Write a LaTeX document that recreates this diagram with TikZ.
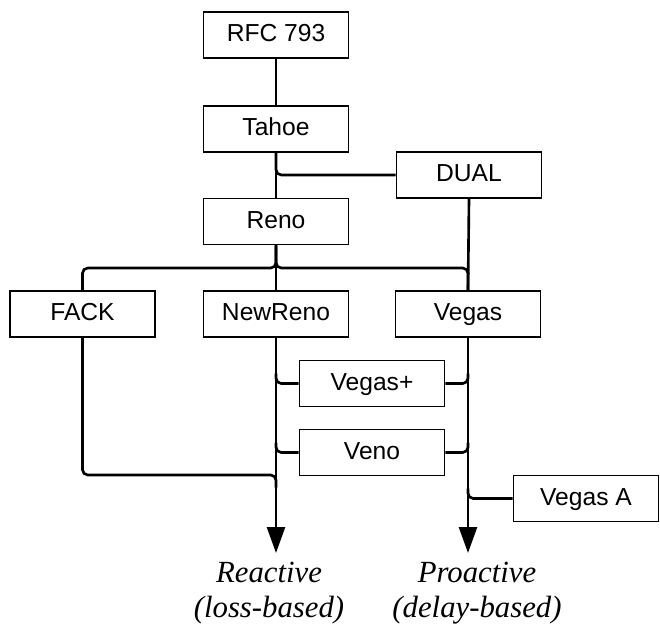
\documentclass[tikz,border=0pt]{standalone}
\usepackage{fontspec}
\setmainfont{Liberation Sans}
\newfontfamily\resultfont{Liberation Serif}
\usetikzlibrary{arrows.meta,calc}

\begin{document}
\begin{tikzpicture}[box/.style={rectangle, draw, line width=1pt,
  minimum width=2.9cm, minimum height=0.92cm, inner sep=0pt,
  text height=2ex, text depth=0.5ex, font=\fontsize{14}{16}\selectfont},
  link/.style={line width=1.5pt, rounded corners=3pt},
  result/.style={align=center, inner sep=0pt, anchor=north,
  font=\resultfont\itshape\fontsize{17.5}{20}\selectfont},
  >={Triangle[length=0.52cm, width=0.36cm]}]
  \useasboundingbox (0,0) rectangle (13.2,-12.48);
  \node[box] (rfc)     at (5.52, -0.70) {RFC 793};
  \node[box] (tahoe)   at (5.52, -2.58) {Tahoe};
  \node[box] (dual)    at (9.38, -3.50) {DUAL};
  \node[box] (reno)    at (5.52, -4.43) {Reno};
  \node[box] (fack)    at (1.65, -6.28) {FACK};
  \node[box] (newreno) at (5.52, -6.28) {NewReno};
  \node[box] (vegas)   at (9.36, -6.28) {Vegas};
  \node[box] (vegasp)  at (7.44, -7.67) {Vegas+};
  \node[box] (veno)    at (7.44, -9.05) {Veno};
  \node[box] (vegasa)  at (11.72, -9.97) {Vegas A};
  \node[result] (reactive)  at (5.38, -11.24) {Reactive\\(loss-based)};
  \node[result] (proactive) at (9.54, -11.24) {Proactive\\(delay-based)};
  \coordinate (split)    at (5.52, -5.36);
  \coordinate (join)     at (5.52, -9.50);
  \coordinate (lossend)  at (5.52, -11.06);
  \coordinate (delayend) at (9.36, -11.06);

  \draw[link] (rfc) -- (tahoe);
  \draw[link] (tahoe) -- (reno);
  \draw[link] (tahoe.south) |- (dual.west);
  \draw[link] (reno.south) |- (split -| fack.north) -- (fack.north);
  \draw[link] (reno.south) |- (split -| vegas.north) -- (vegas.north);
  \draw[link] (reno.south) -- (newreno.north);
  \draw[link] (dual.south) -- (vegas.north);
  \draw[link] (fack.south) |- (join) -- ++(0,-0.25);
  \foreach \n in {vegasp, veno} {
    \draw[link] ($(\n.west -| newreno.south)+(0,0.2)$) |- (\n.west);
    \draw[link] (\n.east) -| ($(\n.east -| vegas.south)+(0,0.2)$);
  }
  \draw[link] ($(vegasa.west -| vegas.south)+(0,0.2)$) |- (vegasa.west);
  \draw[link, ->] (newreno.south) -- (lossend);
  \draw[link, ->] (vegas.south) -- (delayend);
\end{tikzpicture}
\end{document}
